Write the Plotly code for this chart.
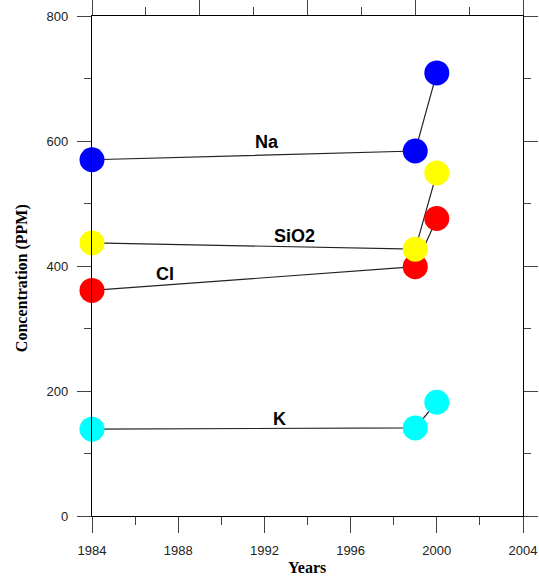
import plotly.graph_objects as go

# Sampling years
years = [1984, 1999, 2000]

# Concentrations (PPM) for each constituent
na = [570, 584, 709]
sio2 = [437, 427, 549]
cl = [361, 399, 476]
k = [139, 141, 182]

series_names = ["Na", "Cl", "SiO2", "K"]
series_values = [na, cl, sio2, k]
series_colors = ["#0000ff", "#ff0000", "#ffff00", "#00ffff"]

# In-plot labels: text, year, concentration
label_text = ["Na", "SiO2", "Cl", "K"]
label_x = [1992.1, 1993.4, 1987.4, 1992.7]
label_y = [599, 448, 387, 155]

x_ticks = [1984, 1988, 1992, 1996, 2000, 2004]
y_ticks = [0, 200, 400, 600, 800]

fig = go.Figure()

# connecting lines on the bottom year axis
for name, vals in zip(series_names, series_values):
    fig.add_trace(go.Scatter(x=years, y=vals, mode="lines", name=name,
                             line=dict(color="#222222", width=1.2),
                             hoverinfo="skip", showlegend=False, cliponaxis=False))

# markers on the overlaid top year axis (same range), drawn above the lines
for name, vals, col in zip(series_names, series_values, series_colors):
    fig.add_trace(go.Scatter(x=years, y=vals, mode="markers", name=name,
                             xaxis="x2", yaxis="y",
                             marker=dict(color=col, size=25, line=dict(width=0)),
                             showlegend=False, cliponaxis=False))

for t, lx, ly in zip(label_text, label_x, label_y):
    fig.add_annotation(x=lx, y=ly, text="<b>" + t + "</b>", showarrow=False,
                       font=dict(family="Liberation Sans, Arial", size=18, color="#000000"))

# axis titles
fig.add_annotation(xref="paper", yref="paper", x=-0.162, y=0.476,
                   xanchor="center", yanchor="middle",
                   text="<b>Concentration (PPM)</b>", textangle=-90, showarrow=False,
                   font=dict(family="Liberation Serif, Times New Roman", size=16, color="#000"))
fig.add_annotation(xref="paper", yref="paper", x=0.498, y=-0.102,
                   xanchor="center", yanchor="middle",
                   text="<b>Years</b>", showarrow=False,
                   font=dict(family="Liberation Serif, Times New Roman", size=16, color="#000"))

tick_font = dict(family="Liberation Sans, Arial", size=13, color="#222222")

fig.update_layout(
    width=539, height=577,
    margin=dict(l=92, r=16, t=16, b=61, autoexpand=False),
    paper_bgcolor="white", plot_bgcolor="white",
    xaxis=dict(range=[1984, 2004], tickvals=x_ticks, ticktext=[str(v) for v in x_ticks],
               ticks="outside", ticklen=16, tickwidth=1.2, tickcolor="#444",
               minor=dict(dtick=2, tick0=1984, ticks="outside", ticklen=8,
                          tickwidth=1.2, tickcolor="#444", showgrid=False),
               showline=True, linecolor="#000", linewidth=1.3,
               showgrid=False, zeroline=False, tickfont=tick_font,
               ticklabelstandoff=6, automargin=False),
    xaxis2=dict(range=[1984, 2004], overlaying="x", side="top", anchor="y",
                tickmode="array", tickvals=[1984, 1989, 1994, 1999, 2004],
                showticklabels=False,
                ticks="outside", ticklen=16, tickwidth=1.2, tickcolor="#444",
                minor=dict(dtick=2.5, tick0=1984, ticks="outside", ticklen=8,
                           tickwidth=1.2, tickcolor="#444", showgrid=False),
                showline=True, linecolor="#000", linewidth=1.3,
                showgrid=False, zeroline=False, automargin=False),
    yaxis=dict(range=[0, 800], tickvals=y_ticks, ticktext=[str(v) for v in y_ticks],
               ticks="outside", ticklen=14, tickwidth=1.2, tickcolor="#444",
               minor=dict(dtick=100, tick0=0, ticks="outside", ticklen=7,
                          tickwidth=1.2, tickcolor="#444", showgrid=False),
               showline=True, linecolor="#000", linewidth=1.3, mirror="ticks",
               showgrid=False, zeroline=False, tickfont=tick_font,
               ticklabelstandoff=6, automargin=False),
)

fig.write_html("out.html")
